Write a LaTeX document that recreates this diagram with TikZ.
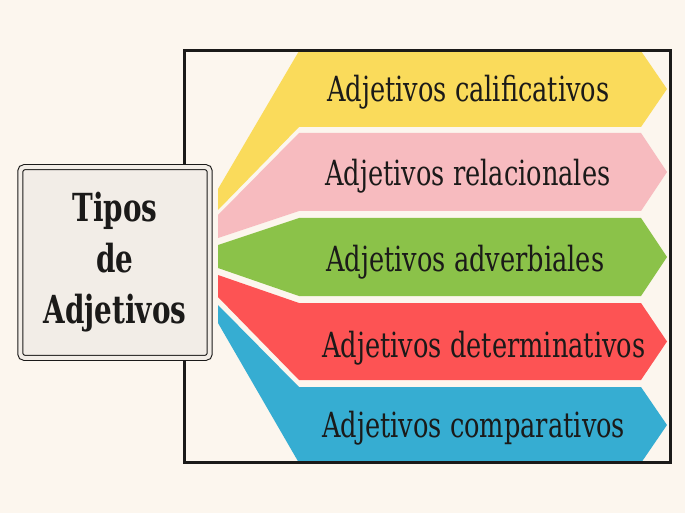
\documentclass[tikz,border=0pt]{standalone}
\usepackage{fontspec}
\newfontfamily\bandfont[FakeStretch=0.74]{DejaVu Serif}
\newfontfamily\titlefont[FakeStretch=0.72]{DejaVu Serif}
\definecolor{fondo}{HTML}{FCF6EE}
\definecolor{cajafondo}{HTML}{F2EDE7}
\definecolor{tinta}{HTML}{1B1A19}
\definecolor{amarillo}{HTML}{FADB5B}
\definecolor{rosa}{HTML}{F7BBBF}
\definecolor{verde}{HTML}{8BC249}
\definecolor{rojo}{HTML}{FD5354}
\definecolor{azul}{HTML}{36ADD2}
\tikzset{
  caja/.style={draw=tinta, double=cajafondo, double distance=3pt, line width=0.8pt,
    rounded corners=3pt, fill=cajafondo, minimum width=142pt, minimum height=143pt,
    align=center, text=tinta, font=\titlefont\bfseries\fontsize{29}{38.25}\selectfont},
  texto/.style={anchor=base west, inner sep=0pt, text=tinta,
    font=\bandfont\fontsize{26}{30}\selectfont}
}
\begin{document}
\begin{tikzpicture}[x=0.75pt,y=-0.75pt]
        \fill[fondo] (0,0) rectangle (685,513);
        \useasboundingbox (0,0) rectangle (685,513);
        \coordinate (a1) at (218,189);
        \coordinate (a2) at (299,51);
        \coordinate (a3) at (641,51);
        \coordinate (a4) at (667,89);
        \coordinate (a5) at (641,127);
        \coordinate (a6) at (299,127);
        \coordinate (a7) at (218,210);
        \coordinate (r1) at (218,215);
        \coordinate (r2) at (299,133);
        \coordinate (r3) at (641,133);
        \coordinate (r4) at (667,172);
        \coordinate (r5) at (641,211);
        \coordinate (r6) at (299,211);
        \coordinate (r7) at (218,238);
        \coordinate (v1) at (218,245);
        \coordinate (v2) at (299,218);
        \coordinate (v3) at (641,218);
        \coordinate (v4) at (667,257);
        \coordinate (v5) at (641,296);
        \coordinate (v6) at (299,296);
        \coordinate (v7) at (218,268);
        \coordinate (o1) at (218,275);
        \coordinate (o2) at (299,303);
        \coordinate (o3) at (641,303);
        \coordinate (o4) at (667,341.5);
        \coordinate (o5) at (641,380);
        \coordinate (o6) at (299,380);
        \coordinate (o7) at (218,297);
        \coordinate (z1) at (218,305);
        \coordinate (z2) at (299,387);
        \coordinate (z3) at (641,387);
        \coordinate (z4) at (667,425);
        \coordinate (z5) at (641,463);
        \coordinate (z6) at (299,463);
        \coordinate (z7) at (218,323);
        \fill[amarillo] (a1) -- (a2) -- (a3) -- (a4) -- (a5) -- (a6) -- (a7) -- cycle;
        \fill[rosa] (r1) -- (r2) -- (r3) -- (r4) -- (r5) -- (r6) -- (r7) -- cycle;
        \fill[verde] (v1) -- (v2) -- (v3) -- (v4) -- (v5) -- (v6) -- (v7) -- cycle;
        \fill[rojo] (o1) -- (o2) -- (o3) -- (o4) -- (o5) -- (o6) -- (o7) -- cycle;
        \fill[azul] (z1) -- (z2) -- (z3) -- (z4) -- (z5) -- (z6) -- (z7) -- cycle;
        \draw[tinta, line width=2.25pt] (184,51) rectangle (670,462);
        % \draw[red] (a3) -- (z5);
        \node[caja] (tipos) at (115,262.5) {Tipos\\de\\Adjetivos};
        \node[texto] (calificativos) at (327,102) {Adjetivos calificativos};
        \node[texto] (relacionales) at (325,186) {Adjetivos relacionales};
        \node[texto] (adverbiales) at (326,272) {Adjetivos adverbiales};
        \node[texto] (determinativos) at (322,357) {Adjetivos determinativos};
        \node[texto] (comparativos) at (322,437) {Adjetivos comparativos};
\end{tikzpicture}
\end{document}
